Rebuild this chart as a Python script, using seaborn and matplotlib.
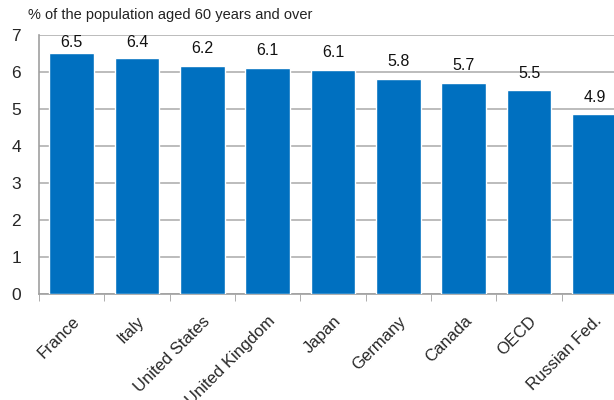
import matplotlib
matplotlib.use("Agg")
import matplotlib.pyplot as plt
import seaborn as sns
import pandas as pd
import numpy as np

countries = ["France", "Italy", "United States", "United Kingdom", "Japan",
             "Germany", "Canada", "OECD", "Russian Fed."]
values = [6.52, 6.38, 6.16, 6.11, 6.06, 5.81, 5.71, 5.51, 4.86]
labels = ["6.5", "6.4", "6.2", "6.1", "6.1", "5.8", "5.7", "5.5", "4.9"]

df = pd.DataFrame({"country": countries, "value": values})

sns.set_style("white")
plt.rcParams["font.family"] = ["Liberation Sans", "DejaVu Sans"]

fig = plt.figure(figsize=(6.14, 4.0), dpi=100)
ax = fig.add_axes([0.0635, 0.265, 1.0 - 0.0635, 0.6475])

sns.barplot(data=df, x="country", y="value", color="#0070C0", saturation=1,
            width=0.68, ax=ax, zorder=3)

# value labels sit above the bars but are kept under the top of the plot
for i, (v, t) in enumerate(zip(values, labels)):
    ax.text(i, min(v + 0.26, 6.6), t, ha="center", va="bottom",
            fontsize=11.5, color="#111111")

ax.set_yticks(range(8))
ax.yaxis.grid(True, color="#B0B0B0", linewidth=1.2, zorder=0)
ax.set_axisbelow(True)

ax.set_xticks(np.arange(len(countries)))
ax.set_xticklabels(countries, rotation=45, ha="right", rotation_mode="anchor", fontsize=12)
ax.set_xticks(np.arange(len(countries) + 1) - 0.5, minor=True)
ax.tick_params(axis="x", which="major", length=0, pad=14)
ax.tick_params(axis="x", which="minor", length=5, color="#A0A0A0", direction="out")
ax.tick_params(axis="y", length=5, color="#A0A0A0", direction="out", labelsize=12.5, pad=8)
ax.xaxis.set_tick_params(which="minor", bottom=True)

# limits after ticks (set_xticks can widen the view)
ax.set_ylim(0, 7)
ax.set_xlim(-0.5, 8.3)

for s in ["top", "right"]:
    ax.spines[s].set_visible(False)
for s in ["left", "bottom"]:
    ax.spines[s].set_color("#A0A0A0")
    ax.spines[s].set_linewidth(1.2)

ax.set_xlabel("")
ax.set_ylabel("")
fig.text(0.045, 0.962, "% of the population aged 60 years and over", fontsize=10.5,
         ha="left", va="center", color="#222222")

fig.savefig("out.png", dpi=100)
